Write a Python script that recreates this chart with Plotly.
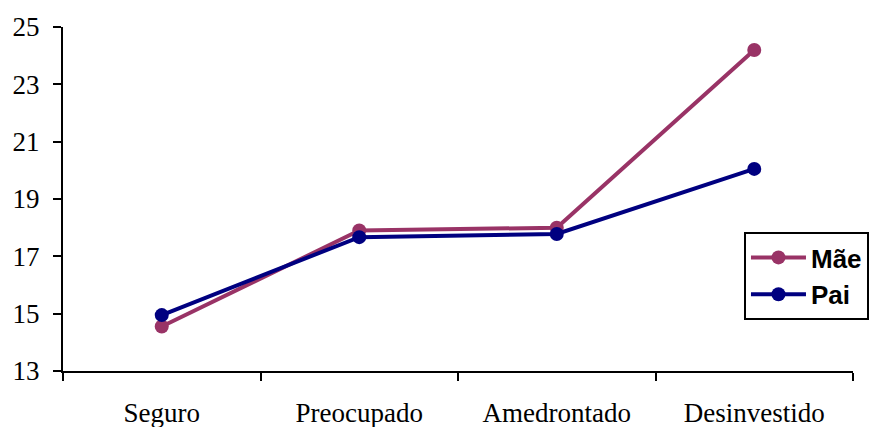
import plotly.graph_objects as go

categories = ["Seguro", "Preocupado", "Amedrontado", "Desinvestido"]
mae = [14.55, 17.9, 18.0, 24.2]
pai = [14.95, 17.67, 17.78, 20.05]
y_ticks = [13, 15, 17, 19, 21, 23, 25]

fig = go.Figure()
fig.add_trace(go.Scatter(x=categories, y=mae, name="<b>Mãe</b>", mode="lines+markers",
                         line=dict(color="#993366", width=4),
                         marker=dict(color="#993366", size=14)))
fig.add_trace(go.Scatter(x=categories, y=pai, name="<b>Pai</b>", mode="lines+markers",
                         line=dict(color="#000080", width=4),
                         marker=dict(color="#000080", size=14)))

serif = "Liberation Serif, Times New Roman, serif"
fig.update_layout(
    width=871, height=427, autosize=False,
    margin=dict(l=63, r=18, t=27, b=56, autoexpand=False),
    paper_bgcolor="white", plot_bgcolor="white",
    font=dict(family=serif, size=27, color="black"),
    showlegend=True,
    legend=dict(x=0.862, y=0.404, xanchor="left", yanchor="top",
                bordercolor="black", borderwidth=2, bgcolor="white",
                font=dict(family="Liberation Sans, Arial, sans-serif", size=26, color="black"),
                itemwidth=55, tracegroupgap=0),
    xaxis=dict(type="category", range=[-0.5, 3.5], showline=True, linecolor="black", linewidth=2,
               ticks="outside", tickson="boundaries", ticklen=8, tickwidth=2, tickcolor="black",
               showgrid=False, zeroline=False, ticklabelstandoff=17, automargin=False,
               tickfont=dict(family=serif, size=27, color="black")),
    yaxis=dict(range=[13, 25], tickvals=y_ticks, showline=True, linecolor="black", linewidth=2,
               ticks="outside", ticklen=8, tickwidth=2, tickcolor="black",
               showgrid=False, zeroline=False, ticklabelstandoff=8, automargin=False,
               tickfont=dict(family=serif, size=27, color="black")),
)

fig.write_html("out.html", include_plotlyjs=True,
               config={"displayModeBar": False, "responsive": False},
               post_script="document.body.style.margin='0';document.body.style.overflow='hidden';")
